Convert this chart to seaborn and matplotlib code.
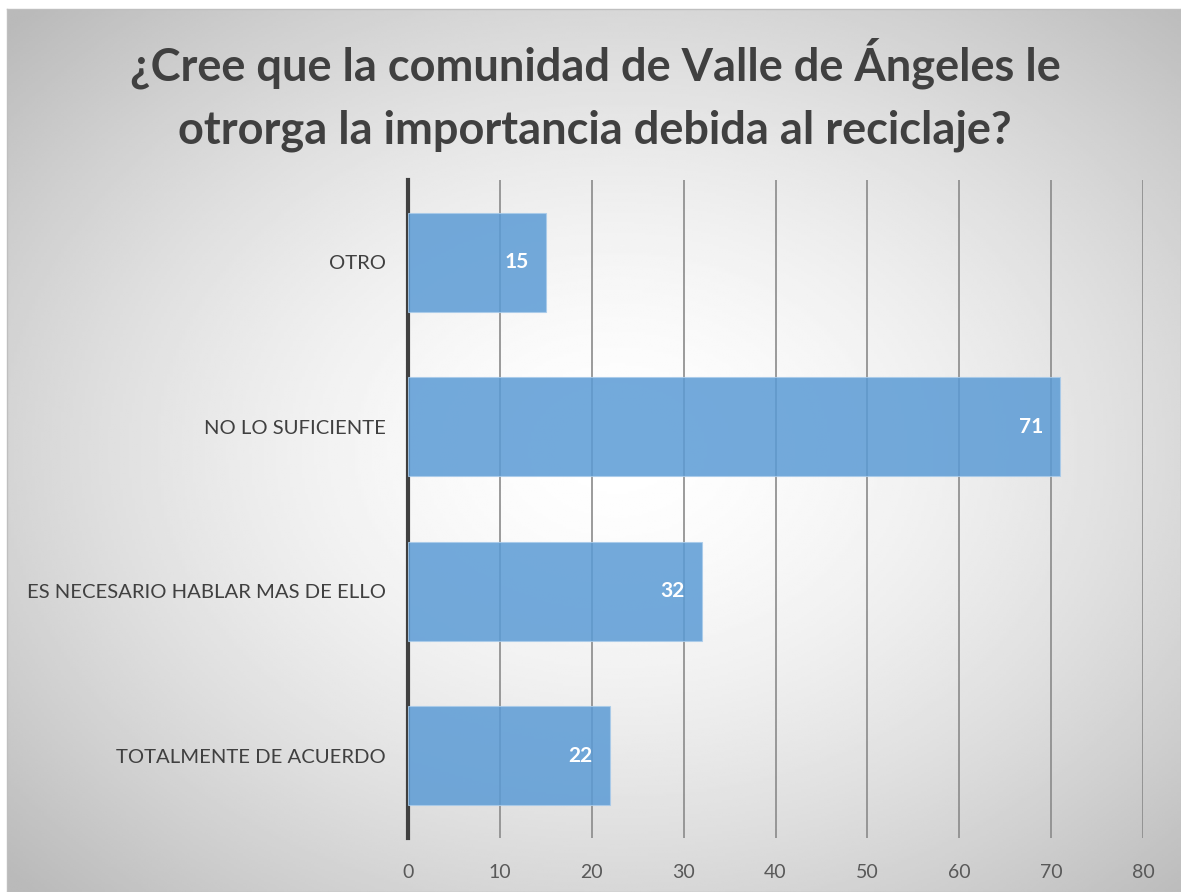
import matplotlib
matplotlib.use('Agg')
import matplotlib.pyplot as plt
import numpy as np
import pandas as pd
import seaborn as sns

categories = ['OTRO', 'NO LO SUFICIENTE', 'ES NECESARIO HABLAR MAS DE ELLO', 'TOTALMENTE DE ACUERDO']
values = [15, 71, 32, 22]
x_ticks = [0, 10, 20, 30, 40, 50, 60, 70, 80]
title = '¿Cree que la comunidad de Valle de Ángeles le\notrorga la importancia debida al reciclaje?'

sns.set_style('white')
plt.rcParams['font.family'] = ['Lato', 'DejaVu Sans']

W, H = 1181, 892
fig = plt.figure(figsize=(W / 100, H / 100), dpi=100)

# radial gradient background (white centre, grey edges)
x0, y_top = 7 / W, 9 / H
bg = fig.add_axes([x0, 0, 1 - x0, 1 - y_top], zorder=-1)
gx, gy = np.meshgrid(np.linspace(0, 1, 400), np.linspace(0, 1, 400))
r = np.sqrt(((gx - 0.52) / 0.75) ** 2 + ((gy - 0.5) / 0.75) ** 2)
shade = 1.0 - 0.27 * np.clip(r / 0.94, 0, 1) ** 1.6
bg.imshow(shade, extent=[0, 1, 0, 1], aspect='auto', cmap='gray', vmin=0, vmax=1, origin='lower')
bg.set_xticks([])
bg.set_yticks([])
for s in bg.spines.values():
    s.set_color('#bfbfbf')
    s.set_linewidth(1)

ax = fig.add_axes([408 / W, 1 - 838 / H, (1143 - 408) / W, (838 - 180) / H])
ax.set_facecolor('none')

df = pd.DataFrame({'cat': categories, 'val': values})
sns.barplot(data=df, x='val', y='cat', orient='h', color='#5B9BD5', alpha=0.85,
            width=0.6, saturation=1, edgecolor='#a9cbea', linewidth=0.8, ax=ax, zorder=3)

for c in ax.containers:
    ax.bar_label(c, padding=-30, color='white', fontsize=15, fontweight='bold')

ax.set_xlim(0, 80)
ax.set_xticks(x_ticks)
ax.xaxis.grid(True, color='#8a8a8a', linewidth=1.2, zorder=0)
ax.set_axisbelow(True)
ax.set_xlabel('')
ax.set_ylabel('')
ax.tick_params(axis='x', length=0, pad=19, labelsize=14, labelcolor='#595959')
ax.tick_params(axis='y', length=0, pad=16, labelsize=14.6, labelcolor='#404040')
for side in ['top', 'right', 'bottom']:
    ax.spines[side].set_visible(False)
ax.spines['left'].set_color('#404040')
ax.spines['left'].set_linewidth(3)

fig.text(0.504, 1 - 95 / H, title, ha='center', va='center', fontsize=32.5,
         fontweight='bold', color='#404040', linespacing=1.6)

fig.savefig('out.png', dpi=100)
